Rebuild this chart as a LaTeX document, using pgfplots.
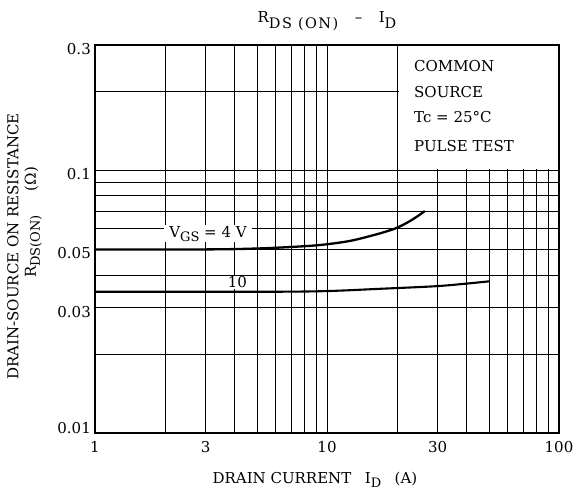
\documentclass[border=0pt]{standalone}
\usepackage{fontspec}
\setmainfont{DejaVu Serif}
\usepackage{pgfplots}
\pgfplotsset{compat=1.18}
\newcommand{\sub}[1]{\raisebox{-4pt}{\fontsize{13}{15}\selectfont #1}}
\newcommand{\tsub}[1]{\raisebox{-6pt}{\fontsize{14.5}{16}\selectfont\addfontfeatures{LetterSpace=10}#1}}
\begin{document}
\begin{tikzpicture}[font=\fontsize{15}{18}\selectfont]
\begin{axis}[
  scale only axis, width=464pt, height=388pt,
  xmode=log, ymode=log,
  xmin=1, xmax=100, ymin=0.01, ymax=0.3,
  xtick={1,3,10,30,100}, xticklabels={1,3,10,30,100},
  ytick={0.01,0.03,0.05,0.1,0.3},
  yticklabels={\raisebox{18pt}{0.01},0.03,0.05,0.1,0.3},
  minor xtick={2,4,5,6,7,8,9,20,40,50,60,70,80,90},
  minor ytick={0.02,0.04,0.06,0.07,0.08,0.09,0.2},
  grid=both,
  grid style={black, line width=0.6pt},
  major grid style={black, line width=0.6pt},
  minor grid style={black, line width=0.6pt},
  major tick length=0pt, minor tick length=0pt,
  axis line style={line width=1.4pt},
  ticklabel style={font=\fontsize{15}{18}\selectfont, inner sep=2pt},
  xticklabel style={yshift=-6pt},
  yticklabel style={yshift=-4pt, xshift=-2pt},
  clip=false,
]
% white box behind the note
\fill[white] (axis cs:20.5,0.1015) rectangle (axis cs:98.8,0.297);
\node[anchor=base west, inner sep=0pt] at (rel axis cs:0.6875,0.931) {COMMON};
\node[anchor=base west, inner sep=0pt] at (rel axis cs:0.6875,0.8652) {SOURCE};
\node[anchor=base west, inner sep=0pt] at (rel axis cs:0.6875,0.799) {Tc = 25°C};
\node[anchor=base west, inner sep=0pt] at (rel axis cs:0.6875,0.725) {PULSE TEST};
% curve labels
\node[anchor=base, fill=white, inner xsep=5pt, inner ysep=1pt] at (axis cs:3.07,0.0556) {V\sub{GS} = 4 V};
\node[anchor=base, fill=white, inner xsep=5pt, inner ysep=0.5pt] at (axis cs:4.11,0.0357) {10};
% curves
\addplot[black, line width=2.3pt, smooth, tension=0.55] coordinates {
 (1,0.0500) (3,0.0500) (5,0.0504) (7.65,0.0513) (9.8,0.0522) (12.6,0.0539)
 (15.8,0.0566) (18,0.0585) (20,0.0604) (22,0.0630) (23.5,0.0652) (25,0.0676) (26.4,0.0700)
};
\addplot[black, line width=2.1pt, smooth, tension=0.55] coordinates {
 (1,0.0345) (3,0.0345) (6,0.0345) (10,0.0347) (16.9,0.0354) (29.2,0.0362)
 (39.3,0.0370) (50,0.0378)
};
% title and labels
\node[anchor=base] at ([yshift=23pt]rel axis cs:0.5,1) {R\tsub{DS (ON)}\hspace{1.1em}–\hspace{1.1em}I\tsub{D}};
\node[anchor=base] at ([yshift=-50pt]rel axis cs:0.474,0) {DRAIN CURRENT\hspace{0.9em}I\sub{D}\hspace{0.9em}(A)};
\node[anchor=base, rotate=90] at ([xshift=-76.7pt]rel axis cs:0,0.4807) {DRAIN-SOURCE ON RESISTANCE};
\node[anchor=base, rotate=90] at ([xshift=-59pt]rel axis cs:0,0.5425) {R\sub{DS(ON)}\hspace{1.6em}(Ω)};
\end{axis}
\pgfresetboundingbox
\path[use as bounding box] ([xshift=-95pt,yshift=-65pt]current axis.south west) rectangle ([xshift=19pt,yshift=45pt]current axis.north east);
\end{tikzpicture}
\end{document}
